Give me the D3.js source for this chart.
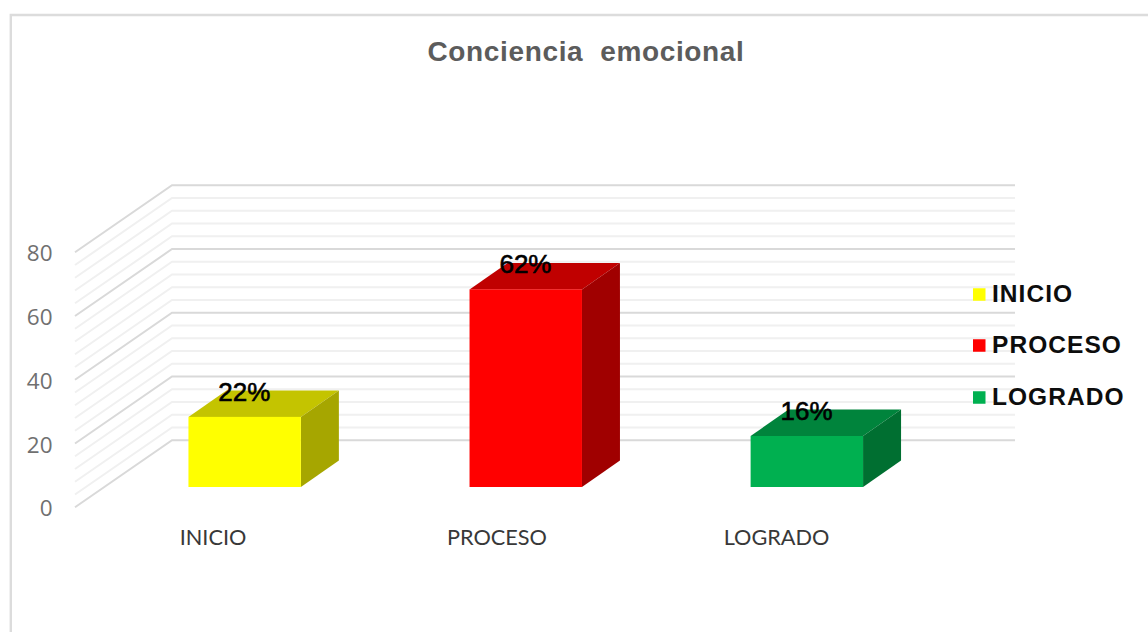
<!DOCTYPE html>
<html><head><meta charset="utf-8">
<script src="https://cdn.jsdelivr.net/npm/d3@7/dist/d3.min.js"></script>
<style>html,body{margin:0;padding:0;background:#fff;overflow:hidden}svg{display:block}</style>
</head><body><svg id="c" width="1148" height="632"></svg>
<script>
const categories = ["INICIO", "PROCESO", "LOGRADO"];
const values = [22, 62, 16];
const valueLabels = ["22%", "62%", "16%"];
const axisTicks = [0, 20, 40, 60, 80];
const gridTicks = [0,4,8,12,16,20,24,28,32,36,40,44,48,52,56,60,64,68,72,76,80];
const faceColors = ["#ffff00", "#ff0000", "#00b050"];
const topColors = ["#c4c400", "#c00000", "#00843c"];
const sideColors = ["#a6a600", "#a00000", "#006f31"];
const chartTitle = "Conciencia\u00a0 emocional";

const svg = d3.select("#c");
const y = d3.scaleLinear().domain([0, 80]).range([440.3, 185.3]);
const x = d3.scaleBand().domain(categories).paddingInner(0.6).paddingOuter(0.3).align(0.5);
x.range([188.5 - 112.5 * 0.75, 863 + 112.5 * 0.75]);
const wall = {left: 172, right: 1015, dx: -97, dy: 67};   // floor-to-front shift of the side wall
const bar = {dx: 38, dy: -26.5, front: 46.7};             // bar depth, and baseline drop below the back wall

// chart frame
svg.append("path").attr("d", "M10.8,632V15H1148").attr("fill", "none").attr("stroke", "#dcdcdc").attr("stroke-width", 2.4);

// gridlines
svg.append("g").selectAll("path").data(gridTicks).join("path")
  .attr("d", d => `M${wall.left + wall.dx},${y(d) + wall.dy}L${wall.left},${y(d)}H${wall.right}`)
  .attr("fill", "none")
  .attr("stroke", d => d % 20 === 0 ? "#d9d9d9" : "#f0f0f0")
  .attr("stroke-width", 2);

// y axis labels
svg.append("g").selectAll("text").data(axisTicks).join("text")
  .attr("x", 52.5).attr("y", d => y(d) + wall.dy + 9)
  .attr("text-anchor", "end")
  .attr("font-family", "'Open Sans'").attr("font-size", 22.5).attr("fill", "#707070")
  .text(d => d);

// bars
const g = svg.append("g");
const base = y(0) + bar.front;
const h = d => y(0) - y(d);
const bars = g.selectAll("g").data(categories.map((c, i) => ({c, i, v: values[i]}))).join("g");
bars.append("path").attr("fill", d => topColors[d.i])
  .attr("d", d => { const l = x(d.c), r = l + x.bandwidth(), t = base - h(d.v);
    return `M${l},${t}L${l + bar.dx},${t + bar.dy}H${r + bar.dx}L${r},${t}Z`; });
bars.append("path").attr("fill", d => sideColors[d.i])
  .attr("d", d => { const r = x(d.c) + x.bandwidth(), t = base - h(d.v);
    return `M${r},${t}L${r + bar.dx},${t + bar.dy}V${base + bar.dy}L${r},${base}Z`; });
bars.append("rect").attr("fill", d => faceColors[d.i])
  .attr("x", d => x(d.c)).attr("width", x.bandwidth())
  .attr("y", d => base - h(d.v)).attr("height", d => h(d.v));
bars.append("text")
  .attr("x", d => x(d.c) + x.bandwidth() / 2 - 0.3)
  .attr("y", d => base - h(d.v) - 16)
  .attr("text-anchor", "middle")
  .attr("font-family", "'Liberation Sans'").attr("font-size", 26)
  .attr("fill", "#000").attr("stroke", "#000").attr("stroke-width", 0.6)
  .text(d => valueLabels[d.i]);

// category labels
svg.append("g").selectAll("text").data(categories).join("text")
  .attr("x", (d, i) => [213, 497, 776.5][i]).attr("y", 545)
  .attr("text-anchor", "middle")
  .attr("font-family", "Lato").attr("font-size", 21.7).attr("fill", "#383838")
  .text(d => d);

// title
svg.append("text").attr("x", 586).attr("y", 61).attr("text-anchor", "middle")
  .attr("font-family", "'Liberation Sans'").attr("font-weight", "bold").attr("font-size", 28)
  .attr("letter-spacing", 0.65)
  .attr("fill", "#5c5c5c").text(chartTitle);

// legend
const leg = d3.scaleOrdinal().domain(categories).range([294.5, 345.5, 397.5]);
const lg = svg.append("g").selectAll("g").data(categories).join("g");
lg.append("rect").attr("x", 973).attr("width", 12.5).attr("height", 12.5)
  .attr("y", d => leg(d) - 6.25).attr("fill", (d, i) => faceColors[i]);
lg.append("text").attr("x", 992).attr("y", d => leg(d) + 7.5)
  .attr("font-family", "'Liberation Sans'").attr("font-weight", "bold").attr("font-size", 24.5)
  .attr("letter-spacing", 1.05)
  .attr("fill", "#0d0d0d").text(d => d);
</script></body></html>
